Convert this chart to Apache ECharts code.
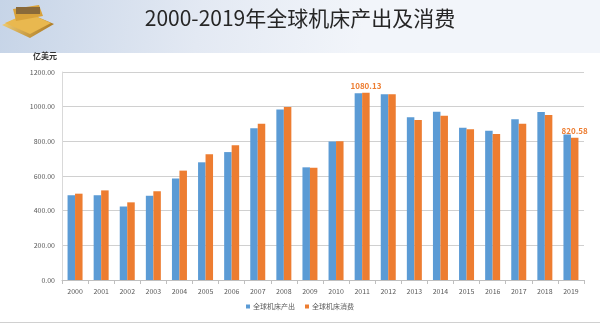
<!DOCTYPE html>
<html>
<head>
<meta charset="utf-8">
<script src="https://cdn.jsdelivr.net/npm/echarts@6/dist/echarts.min.js"></script>
<style>
html,body{margin:0;padding:0;background:#fff;}
#c{width:600px;height:325px;}
</style>
</head>
<body>
<div id="c"></div>
<script>
const categories = ['2000','2001','2002','2003','2004','2005','2006','2007','2008','2009','2010','2011','2012','2013','2014','2015','2016','2017','2018','2019'];
const productionValues = [489, 489, 424, 486, 586, 679, 738, 875, 983, 650, 799, 1077, 1071, 939, 971, 879, 861, 927, 969, 840];
const consumptionValues = [498, 517, 448, 512, 631, 725, 777, 902, 998, 648, 800, 1080.13, 1071, 923, 948, 869, 842, 902, 952, 820.58];
const labeledIndexes = [11, 19];
const seriesNames = ['全球机床产出', '全球机床消费'];
const yTicks = [0, 200, 400, 600, 800, 1000, 1200];

const chart = echarts.init(document.getElementById('c'), null, {renderer: 'canvas'});
const font = '"Noto Sans CJK SC", "Noto Sans", sans-serif';

const option = {
  backgroundColor: '#ffffff',
  animation: false,
  graphic: [
    {
      type: 'rect', left: 0, top: 0, z: -10,
      shape: {width: 600, height: 53},
      style: {
        fill: new echarts.graphic.LinearGradient(0, 0, 0.6, 1, [
          {offset: 0, color: '#c6d4e7'},
          {offset: 0.55, color: '#e3e9f3'},
          {offset: 1, color: '#f2f5fa'}
        ])
      }
    },
    {
      type: 'polygon', z: -5,
      shape: {points: [[2, 25], [30, 38], [54, 24], [28, 13]]},
      style: {
        fill: new echarts.graphic.LinearGradient(0, 0, 1, 1, [
          {offset: 0, color: '#f3d27a'},
          {offset: 1, color: '#a8731a'}
        ])
      }
    },
    {
      type: 'polygon', z: -4,
      shape: {points: [[5, 23], [30, 34], [51, 23], [28, 13]]},
      style: {fill: '#e9b84f'}
    },
    {
      type: 'polygon', z: -3,
      shape: {points: [[13, 9], [39, 5], [43, 16], [16, 21]]},
      style: {fill: '#d9a23a'}
    },
    {
      type: 'rect', z: -2,
      shape: {x: 16, y: 7, width: 24, height: 7},
      style: {fill: '#8a6a3a'}
    },
    {
      type: 'text', z: 5,
      left: 'center', top: 8,
      style: {text: '2000-2019年全球机床产出及消费', fontSize: 21, fontFamily: font, fill: '#262626'}
    },
    {
      type: 'text', z: 5,
      left: 33, top: 52,
      style: {text: '亿美元', fontSize: 8, fontWeight: 'bold', fontFamily: font, fill: '#333333'}
    },
    {
      type: 'rect', left: 0, top: 322, z: -1,
      shape: {width: 600, height: 1},
      style: {fill: '#d0d0d0'}
    }
  ],
  legend: {
    data: seriesNames,
    bottom: 10,
    left: 'center',
    itemWidth: 4,
    itemHeight: 4,
    itemGap: 10,
    icon: 'rect',
    textStyle: {fontSize: 7, color: '#595959', fontFamily: font, padding: [0, 0, 0, -2]}
  },
  grid: {left: 62, right: 16, top: 72, bottom: 45, containLabel: false},
  xAxis: {
    type: 'category',
    data: categories,
    axisLine: {lineStyle: {color: '#bfbfbf'}},
    axisTick: {show: true, length: 4, lineStyle: {color: '#bfbfbf'}},
    axisLabel: {fontSize: 7, color: '#595959', fontFamily: font, margin: 8}
  },
  yAxis: {
    type: 'value',
    min: 0, max: 1200, interval: 200,
    axisLine: {show: true, lineStyle: {color: '#d9d9d9'}},
    axisTick: {show: false},
    splitLine: {lineStyle: {color: '#d0d0d0'}},
    axisLabel: {
      fontSize: 7, color: '#595959', fontFamily: font, margin: 7,
      formatter: v => yTicks.includes(v) ? v.toFixed(2) : ''
    }
  },
  series: [
    {
      name: seriesNames[0],
      type: 'bar',
      data: productionValues,
      barWidth: 7.5,
      barGap: '0%',
      itemStyle: {color: '#5b9bd5'}
    },
    {
      name: seriesNames[1],
      type: 'bar',
      barWidth: 7.5,
      data: consumptionValues.map((v, i) => labeledIndexes.includes(i) ? {
        value: v,
        label: {
          show: true, position: 'top', distance: 3,
          formatter: p => p.value.toFixed(2),
          fontSize: 8, fontWeight: 'bold', color: '#ed7d31', fontFamily: font
        }
      } : v),
      itemStyle: {color: '#ed7d31'}
    }
  ]
};
chart.setOption(option);
</script>
</body>
</html>
